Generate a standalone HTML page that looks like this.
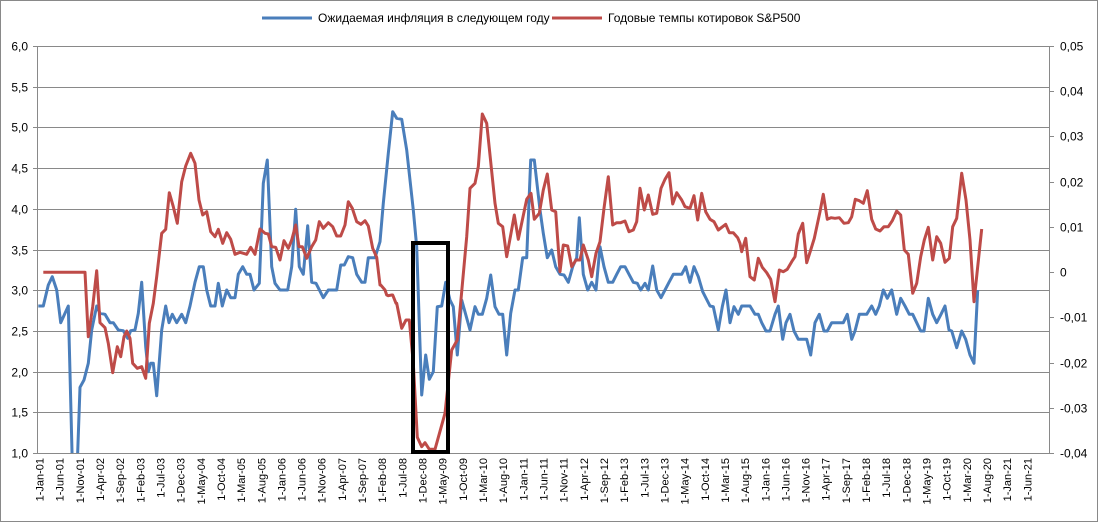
<!DOCTYPE html>
<html><head><meta charset="utf-8"><style>
html,body{margin:0;padding:0;background:#fff}
svg{display:block;font-family:"Liberation Sans","DejaVu Sans",sans-serif}
</style></head><body>
<svg id="s" width="1098" height="523" xmlns="http://www.w3.org/2000/svg">
<rect x="0.5" y="0.5" width="1097" height="521" fill="#fff" stroke="#898989"/>
<g id="grid"></g>
<g id="lbl" font-size="12" fill="#000"></g>
<defs><clipPath id="cp"><rect x="37" y="30" width="1013" height="423"/></clipPath></defs>
<g clip-path="url(#cp)">
<polyline id="blue" fill="none" stroke="#4a7ebb" stroke-width="3" stroke-linejoin="round"/>
<polyline id="red" fill="none" stroke="#be4b48" stroke-width="3" stroke-linejoin="round"/>
</g>
<rect x="413" y="243" width="35" height="209" fill="none" stroke="#000" stroke-width="4"/>
<line x1="262" y1="18" x2="312" y2="18" stroke="#4a7ebb" stroke-width="3"/>
<text x="318" y="22" font-size="12">Ожидаемая инфляция  в следующем  году</text>
<line x1="552" y1="18" x2="602" y2="18" stroke="#be4b48" stroke-width="3"/>
<text x="608" y="22" font-size="12">Годовые темпы котировок S&amp;P500</text>
</svg>
<script>
var NS="http://www.w3.org/2000/svg";
function el(p,t,a,txt){var e=document.createElementNS(NS,t);for(var k in a)e.setAttribute(k,a[k]);if(txt!=null)e.textContent=txt;p.appendChild(e);return e;}
var g=document.getElementById('grid'),L=document.getElementById('lbl');
var L0=37.5,R0=1049.5,T=46,B=453;
for(var i=0;i<=10;i++){var y=T+(B-T)*i/10;y=Math.round(y)+0.5;
 el(g,'line',{x1:L0,x2:R0,y1:y,y2:y,stroke:'#898989'});
 el(g,'line',{x1:33,x2:L0,y1:y,y2:y,stroke:'#898989'});
 el(L,'text',{x:28,y:y+4,'text-anchor':'end'},(6-i*0.5).toFixed(1).replace('.',','));}
for(var i=0;i<=9;i++){var y=Math.round(T+(B-T)*i/9)+0.5;
 el(g,'line',{x1:R0,x2:1054,y1:y,y2:y,stroke:'#898989'});
 var v=0.05-i*0.01;var s=Math.abs(v)<1e-9?'0':(v.toFixed(2).replace('.',','));
 el(L,'text',{x:1060,y:y+4},s);}
el(g,'line',{x1:L0,x2:L0,y1:T,y2:B,stroke:'#898989'});
el(g,'line',{x1:R0,x2:R0,y1:T,y2:B,stroke:'#898989'});
var mon=['Jan','Feb','Mar','Apr','May','Jun','Jul','Aug','Sep','Oct','Nov','Dec'];
var w=(R0-L0)/251;
for(var k=0;k<50;k++){var m=k*5;var yr=1+Math.floor(m/12);var mo=m%12;
 var x=L0+(m+0.5)*w;
 var t='1-'+mon[mo]+'-'+(yr<10?'0':'')+yr;
 el(L,'text',{x:0,y:0,'font-size':11,'text-anchor':'end',transform:'translate('+(x+4)+',458) rotate(-90)'},t);}
function conv(arrs){var pts=[];arrs.forEach(function(a){var ox=a[0],d=a[1];for(var i=0;i<d.length;i+=2)pts.push([ox+d[i]/3,30+d[i+1]/3]);});
 pts.sort(function(a,b){return a[0]-b[0]});return pts.map(function(p){return p[0].toFixed(1)+','+p[1].toFixed(1)}).join(' ');}
var b1=[115,828,130,828,145,765,157,740,170,780,182,878,205,828,217,1300,232,1300,240,1072,252,1050,265,1000,275,900,290,828,300,850,315,853,330,878,340,878,355,900,370,902,383,925,392,902,405,900,415,850,425,757,437,950,445,1025,452,1000,460,1000,470,1097,485,900,497,828,507,878,517,853,530,878,545,853,557,878,570,828,585,757,598,710,610,710,620,780,632,828,645,828,655,760,667,828,680,780,692,803,705,803,715,733,728,710,740,733,750,733,762,780,778,760,790,460,802,390,815,710,825,760,840,780,863,780,875,710,887,538,898,710,910,733,923,587,935,757,948,760,970,803,985,780,1010,780,1022,705,1033,705,1045,680,1058,683,1070,733,1085,757,1095,757,1105,683,1125,683,1140,635,1150,520,1165,370];
var b2=[38,245,50,265,65,268,80,360,100,540,110,650,125,1095,137,975,148,1048,160,1025,172,830,185,828,197,757,210,810,220,830,232,975,245,810,270,900,285,830,295,853,307,853,320,805,332,735,345,830,357,853,368,853,380,975,392,850,405,780,415,780,428,683,440,683,452,390,463,390,480,540,490,610,502,683,515,660,527,710,540,733,552,735,565,757,578,710,590,683,598,563,610,733,623,780,635,757,648,780,660,650,672,710,685,757,698,757,710,733,722,710,735,710,747,733,760,757,772,760,782,780,795,760,805,780,818,708,830,780,843,803,855,780,867,757,880,733,905,733,917,710,930,757,942,710,955,740,968,785,990,828,1000,830,1015,900,1027,830,1038,780,1050,878,1062,830,1075,853];
var b3=[65,828,90,828,105,853,115,853,125,878,138,903,150,903,165,853,175,828,188,928,198,878,210,853,222,903,235,928,260,928,272,975,285,878,298,853,312,903,322,903,335,878,370,878,382,853,395,928,405,903,418,853,440,853,455,828,467,853,478,828,490,780,502,805,515,780,530,853,542,805,555,828,568,853,578,853,590,878,602,903,612,903,625,805,638,853,650,878,663,853,675,828,687,900,695,903,710,953,725,903,737,928,750,975,762,1000,773,780];
var r1=[130,727,255,727,265,920,278,830,290,722,300,878,315,893,325,940,338,1028,352,950,362,980,372,920,380,903,390,925,398,1000,412,1015,425,1010,437,1045,448,880,460,820,470,740,485,610,497,598,508,488,520,530,532,580,545,455,557,408,572,370,585,400,597,510,608,555,620,545,632,605,645,620,655,598,668,640,680,608,692,628,705,673,720,667,740,673,752,652,765,673,780,597,795,610,805,612,815,650,827,652,840,690,852,632,865,655,875,630,887,585,897,650,907,650,920,685,935,650,947,630,958,575,970,595,985,578,998,590,1010,618,1022,618,1035,585,1045,515,1057,535,1070,575,1083,583,1095,572,1105,588,1118,655,1130,682,1142,765,1155,780,1165,797,1178,795,1190,820];
var r2=[0,765,20,795,35,795,48,820,65,895,78,870,88,870,100,1000,112,1222,125,1250,135,1238,148,1258,165,1258,195,1150,215,960,232,930,260,620,270,475,285,460,295,410,307,252,320,280,330,375,345,520,355,580,368,590,380,680,392,615,403,555,415,628,428,565,440,508,453,490,463,568,478,550,490,480,502,432,515,540,527,545,540,725,550,645,563,648,575,710,588,690,600,690,610,645,625,690,635,740,648,670,660,635,672,535,685,440,698,585,710,578,722,578,735,573,747,605,760,600,770,575,780,475,793,540,805,495,818,553,830,550,843,475,855,448,867,428,878,522,890,488,905,510,915,530,930,535,942,497,953,570,965,490,977,545,990,568,1002,575,1015,600,1037,583,1048,608,1060,608,1073,623];
var r3=[60,640,65,665,77,625,90,740,103,750,115,685,127,712,140,728,152,748,165,815,178,720,190,725,202,718,215,695,225,680,235,612,248,580,260,698,272,660,283,625,300,545,310,493,322,568,333,563,345,565,358,563,372,580,385,578,395,560,406,508,418,512,430,520,442,482,455,568,467,597,480,603,492,590,505,590,517,572,530,543,542,555,553,660,565,673,578,790,590,760,602,680,613,630,625,592,638,690,650,620,662,640,675,697,688,685,698,590,710,565,725,430,738,510,750,630,762,815,785,597];
document.getElementById('blue').setAttribute('points',conv([[0,b1],[380,b2],[720,b3]]));
document.getElementById('red').setAttribute('points',conv([[0,r1],[380,r2],[720,r3]]));
</script>
</body></html>
